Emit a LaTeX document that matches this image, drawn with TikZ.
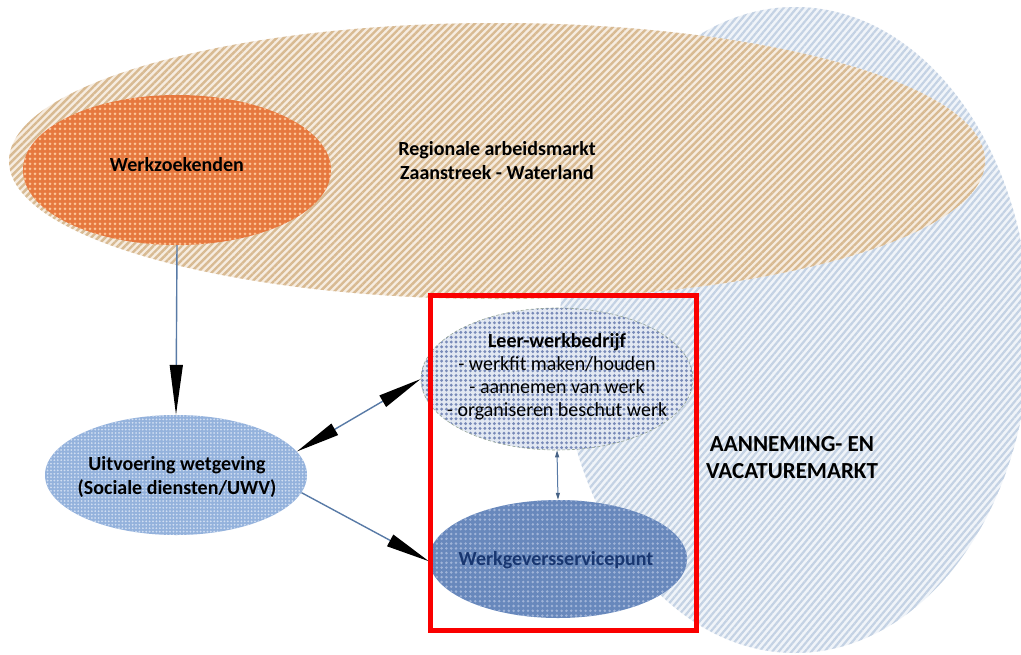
\documentclass[tikz,border=0pt]{standalone}
\usepackage{fontspec}
\setmainfont{Carlito}
\usetikzlibrary{shapes.geometric,patterns.meta,arrows.meta}
\definecolor{orgbase}{RGB}{246,236,224}
\definecolor{orgline}{RGB}{216,186,146}
\definecolor{bluebase}{RGB}{240,244,249}
\definecolor{blueline}{RGB}{196,210,228}
\definecolor{wzbase}{RGB}{230,120,62}
\definecolor{wzdot}{RGB}{252,196,150}
\definecolor{uvbase}{RGB}{148,178,220}
\definecolor{uvdot}{RGB}{208,222,242}
\definecolor{lwbase}{RGB}{226,232,242}
\definecolor{lwdot}{RGB}{120,138,184}
\definecolor{lwedge}{RGB}{150,165,150}
\definecolor{wgbase}{RGB}{104,136,188}
\definecolor{wgdot}{RGB}{160,180,216}
\definecolor{wgtext}{RGB}{24,54,112}
\definecolor{conn}{RGB}{88,122,166}
\definecolor{frame}{RGB}{250,0,0}
\tikzset{
  txt/.style={font=\fontsize{20}{23}\selectfont, align=center, inner sep=0pt},
  btxt/.style={font=\fontsize{20}{24}\selectfont\bfseries, align=center, inner sep=0pt},
  oval/.style={ellipse, inner sep=0pt},
  regionstripes/.style={oval, preaction={fill=orgbase}, pattern={Lines[angle=45,distance=5pt,line width=2.4pt]}, pattern color=orgline},
  marktstripes/.style={oval, preaction={fill=bluebase}, pattern={Lines[angle=50,distance=5pt,line width=2.2pt]}, pattern color=blueline},
  wzfill/.style={oval, preaction={fill=wzbase}, pattern={Dots[distance=5pt,radius=1.5pt]}, pattern color=wzdot},
  uvfill/.style={oval, preaction={fill=uvbase}, pattern={Dots[distance=3.4pt,radius=1pt]}, pattern color=uvdot},
  lwfill/.style={oval, preaction={fill=lwbase}, pattern={Dots[distance=4.8pt,radius=1.6pt]}, pattern color=lwdot, draw=lwedge, densely dashed, line width=0.6pt},
  wgfill/.style={oval, preaction={fill=wgbase}, pattern={Dots[distance=4.8pt,radius=1.4pt]}, pattern color=wgdot},
  conn/.style={draw=conn, line width=1.4pt},
  bigtip/.tip={Triangle[length=44pt,width=13pt,color=black]},
  longtip/.tip={Triangle[length=50pt,width=13pt,color=black]},
  smalltip/.tip={Triangle[length=7pt,width=4pt,color=conn!80!black]}
}
\begin{document}
\begin{tikzpicture}[x=1pt,y=-1pt]
\useasboundingbox (0,0) rectangle (1021,654);
\clip (0,0) rectangle (1021,654);
\fill[white] (0,0) rectangle (1021,654);
% large regions
\node[marktstripes, minimum width=470pt, minimum height=646pt] (markt) at (795,330) {};
\node[regionstripes, minimum width=976pt, minimum height=276pt, btxt] (regio) at (497,161) {Regionale arbeidsmarkt\\Zaanstreek - Waterland};
\node[btxt, font=\fontsize{23}{27}\selectfont\bfseries] (markt-t) at (792,458) {AANNEMING- EN\\VACATUREMARKT};
% small ellipses
\node[wzfill, minimum width=308pt, minimum height=150pt] (werkz) at (177,170) {};
\node[btxt] (werkz-t) at (177,165) {Werkzoekenden};
\node[uvfill, minimum width=262pt, minimum height=120pt] (uitv) at (176,475) {};
\node[btxt] (uitv-t) at (177,477) {Uitvoering wetgeving\\(Sociale diensten/UWV)};
\node[lwfill, minimum width=272pt, minimum height=142pt] (leer) at (557,379) {};
\node[txt] (leer-t) at (557,377) {\textbf{Leer-werkbedrijf}\\- werkfit maken/houden\\- aannemen van werk\\- organiseren beschut werk};
\node[wgfill, minimum width=258pt, minimum height=118pt] (wgsp) at (558,559) {};
\node[btxt, text=wgtext] (wgsp-t) at (556,560) {Werkgeversservicepunt};
% connectors
\draw[conn, -longtip] (werkz.south) -- (uitv.north);
\draw[conn, bigtip-bigtip] (uitv.11) -- (leer.180);
\draw[conn, -bigtip] (uitv.-8) -- (wgsp.181);
\draw[conn, line width=1pt, smalltip-smalltip] (leer.south) -- (wgsp.north);
% red frame
\node[draw=frame, line width=5pt, minimum width=266pt, minimum height=335pt, inner sep=0pt] (frame) at (563,462.5) {};
\end{tikzpicture}
\end{document}
